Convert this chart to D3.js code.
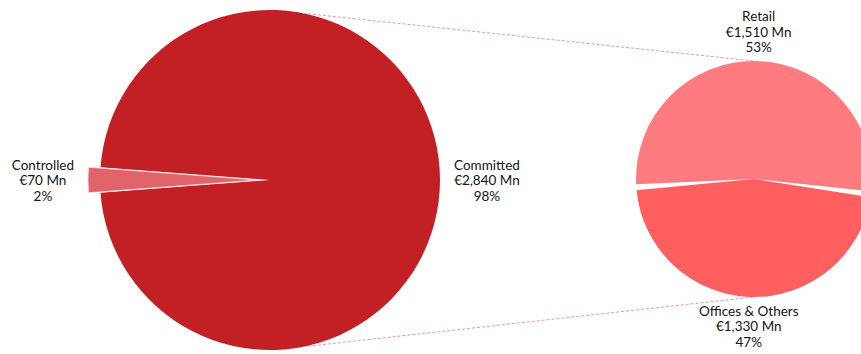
<!DOCTYPE html>
<html>
<head>
<meta charset="utf-8">
<script src="https://cdn.jsdelivr.net/npm/d3@7/dist/d3.min.js"></script>
<style>
  html, body { margin: 0; padding: 0; background: #fff; }
  svg { display: block; }
  text { font-family: Lato, "Noto Sans", sans-serif; font-size: 13.5px; fill: #141414; }
</style>
</head>
<body>
<svg id="chart" width="861" height="354"></svg>
<script>
// Main split: controlled vs committed pipeline (€ Mn)
const categories = ["Controlled", "Committed"];
const values = [70, 2840];
const colors = ["#e2646b", "#c32026"];

// Breakdown of the committed slice
const subCategories = ["Retail", "Offices & Others"];
const subValues = [1510, 1330];
const subColors = ["#ff7b7f", "#ff5f5f"];

const deg = Math.PI / 180;
const svg = d3.select("#chart");

const main = { cx: 270, cy: 180, r: 170, explode: 12 };
const sub = { cx: 754, cy: 179, r: 118, gap: 6 };

const fmtMoney = v => "€" + d3.format(",")(v) + " Mn";
const fmtPct = d3.format(".0%");

// ---- main pie: controlled slice centred on the left, pulled out
const total = d3.sum(values);
const ctrlSpan = 2 * Math.PI * values[0] / total;
const mainStart = -Math.PI / 2 - ctrlSpan / 2;
const mainPie = d3.pie().sort(null).startAngle(mainStart).endAngle(mainStart + 2 * Math.PI);
const mainArcs = mainPie(values);
const mainArc = d3.arc().innerRadius(0).outerRadius(main.r);

const gMain = svg.append("g").attr("transform", `translate(${main.cx},${main.cy})`);

// ---- sub pie: retail on top, offices below
const subTotal = d3.sum(subValues);
const retailSpan = 2 * Math.PI * subValues[0] / subTotal;
const retailMid = 1.7 * deg;
const subStart = retailMid - retailSpan / 2;
const subPie = d3.pie().sort(null).startAngle(subStart).endAngle(subStart + 2 * Math.PI);
const subArcs = subPie(subValues);
const subArc = d3.arc().innerRadius(0).outerRadius(sub.r).padAngle(sub.gap / sub.r);

// connector lines between the two pies
const connAngle = 11.2 * deg;
const pt = (c, r, a) => [c.cx + r * Math.sin(a), c.cy - r * Math.cos(a)];
const connectors = [
  [pt(main, main.r, connAngle), pt(sub, sub.r, 0)],
  [pt(main, main.r, Math.PI - connAngle), pt(sub, sub.r, Math.PI)]
];
svg.append("g").selectAll("line").data(connectors).join("line")
  .attr("x1", d => d[0][0]).attr("y1", d => d[0][1])
  .attr("x2", d => d[1][0]).attr("y2", d => d[1][1])
  .attr("stroke", "#eb96a0").attr("stroke-width", 1)
  .attr("stroke-dasharray", "3,2");

// committed slice first, then the pulled-out controlled slice on top
gMain.append("path").attr("d", mainArc(mainArcs[1])).attr("fill", colors[1]);
const ctrlMid = (mainArcs[0].startAngle + mainArcs[0].endAngle) / 2;
gMain.append("path")
  .attr("d", mainArc(mainArcs[0]))
  .attr("fill", colors[0])
  .attr("stroke", "#fbe3e4").attr("stroke-width", 0.8)
  .attr("transform", `translate(${main.explode * Math.sin(ctrlMid)},${-main.explode * Math.cos(ctrlMid)})`);

const gSub = svg.append("g").attr("transform", `translate(${sub.cx},${sub.cy})`);
gSub.selectAll("path").data(subArcs).join("path")
  .attr("d", subArc)
  .attr("fill", (d, i) => subColors[i]);

// ---- labels: three centred lines placed just outside each slice
function placeLabel(lines, c, r, angle, gap) {
  const t = svg.append("text").attr("text-anchor", "middle");
  lines.forEach((s, i) => t.append("tspan").attr("x", 0).attr("y", i * 15.5).text(s));
  const b = t.node().getBBox();
  const ax = c.cx + (r + gap) * Math.sin(angle);
  const ay = c.cy - (r + gap) * Math.cos(angle);
  const bx = ax + Math.sin(angle) * b.width / 2;
  const by = ay - Math.cos(angle) * b.height / 2;
  const tx = bx - (b.x + b.width / 2);
  const ty = by - (b.y + b.height / 2);
  t.attr("transform", `translate(${tx},${ty})`);
}

mainArcs.forEach((a, i) => {
  const mid = (a.startAngle + a.endAngle) / 2;
  const r = i === 0 ? main.r + main.explode : main.r;
  placeLabel([categories[i], fmtMoney(values[i]), fmtPct(values[i] / total)], main, r, mid, 14);
});
subArcs.forEach((a, i) => {
  const mid = (a.startAngle + a.endAngle) / 2;
  placeLabel([subCategories[i], fmtMoney(subValues[i]), fmtPct(subValues[i] / subTotal)], sub, sub.r, mid, 6);
});
</script>
</body>
</html>
